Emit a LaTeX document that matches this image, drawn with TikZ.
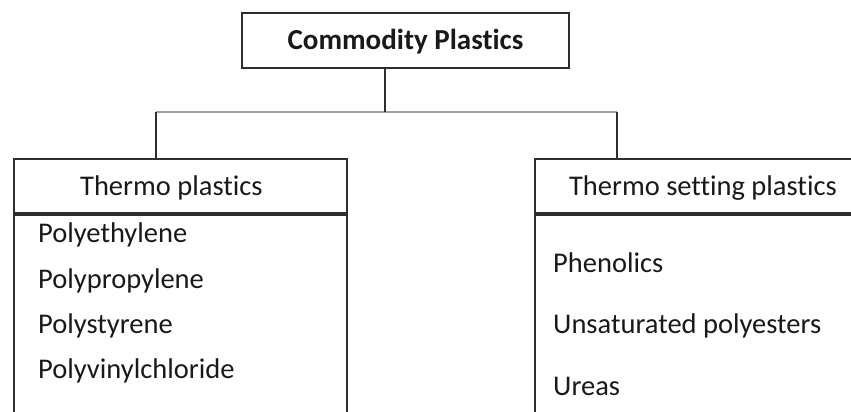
\documentclass[tikz,border=0pt]{standalone}
\usepackage{fontspec}
\setmainfont{Carlito}[Ligatures=NoCommon]
\usetikzlibrary{positioning}
\definecolor{myline}{rgb}{0.18,0.18,0.18}
\definecolor{myrail}{rgb}{0.62,0.62,0.62}
\definecolor{mytext}{rgb}{0.1,0.1,0.1}

\begin{document}
\begin{tikzpicture}[x=1pt,y=-1pt,
  box/.style={draw=myline,line width=1.8pt,inner sep=0pt,text=mytext,
              text height=19pt,text depth=0pt},
  item/.style={anchor=base west,inner sep=0pt,text=mytext,
               font=\fontsize{28.5}{32}\selectfont},
  stem/.style={draw=myline,line width=1.5pt},
  rail/.style={draw=myrail,line width=1.5pt}]
  \clip (0,0) rectangle (851,412);
  % top box
  \node[box,minimum width=327pt,minimum height=55pt,
        font=\bfseries\fontsize{29}{34}\selectfont] (commodity) at (405.5,40.5)
        {Commodity Plastics};
  % the two columns, header + body (cut off at the page edge)
  \node[box,anchor=north west,minimum width=333pt,minimum height=54pt,
        font=\fontsize{28.5}{32}\selectfont,text height=20pt]
        (thermo) at (13,158) {Thermo plastics\hspace*{18pt}};
  \node[box,anchor=north,minimum width=333pt,minimum height=260pt]
        (thermobody) at (thermo.south) {};
  \node[box,anchor=north west,minimum width=336pt,minimum height=54pt,
        font=\fontsize{28.5}{32}\selectfont,text height=20pt]
        (setting) at (534,158) {Thermo setting plastics};
  \node[box,anchor=north,minimum width=336pt,minimum height=260pt]
        (settingbody) at (setting.south) {};
  % items
  \node[item] (pe)  at (38,242) {Polyethylene};
  \node[item] (pp)  at (38,288) {Polypropylene};
  \node[item] (ps)  at (38,333) {Polystyrene};
  \node[item] (pvc) at (38,378) {Polyvinylchloride};
  \node[item] (phen) at (553,272) {Phenolics};
  \node[item] (upe)  at (553,333) {Unsaturated polyesters};
  \node[item] (urea) at (553,395) {Ureas};
  % connectors
  \coordinate (split)  at (385,112);
  \coordinate (tpdrop) at (156,158);
  \coordinate (tsdrop) at (617,158);
  \draw[rail] (tpdrop |- split) -- (tsdrop |- split);
  \draw[stem] (commodity.south -| split) -- (split);
  \draw[stem] (tpdrop |- split) -- (tpdrop);
  \draw[stem] (tsdrop |- split) -- (tsdrop);
\end{tikzpicture}
\end{document}
